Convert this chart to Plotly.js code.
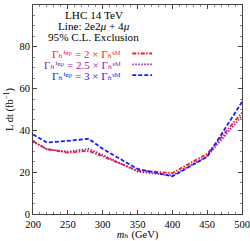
<!DOCTYPE html>
<html><head><meta charset="utf-8">
<script src="https://cdn.plot.ly/plotly-3.0.1.min.js"></script>
<style>html,body{margin:0;padding:0;background:#fff}#c{width:250px;height:241px}</style>
</head><body><div id="c"></div>
<script>
const massPoints = [200, 220, 250, 280, 300, 350, 400, 450, 500];
const lumi2x   = [34.8, 31.0, 29.4, 30.2, 27.6, 20.8, 19.6, 28.8, 48.5];
const lumi25x  = [34.6, 31.0, 29.8, 31.2, 28.2, 20.3, 18.4, 27.7, 46.9];
const lumi3x   = [38.0, 34.2, 35.0, 36.0, 31.2, 21.6, 18.0, 27.4, 53.6];
const seriesLabels = ['2', '2.5', '3'];
const seriesColors = ['#ff1a1a', '#a020a0', '#1a1aff'];
const seriesDash = ['4px,1.5px,1.5px,1.5px', '1.5px,1.5px', '4px,2px'];
const seriesData = [lumi2x, lumi25x, lumi3x];
const xTicks = [200, 250, 300, 350, 400, 450, 500];
const yTicks = [0, 20, 40, 60, 80, 100];

const fontFam = 'Liberation Serif, DejaVu Serif, Times New Roman, serif';
const traces = seriesData.map((ys, i) => ({
  x: massPoints, y: ys, type: 'scatter', mode: 'lines',
  line: {color: seriesColors[i], dash: seriesDash[i], width: 1.8},
  showlegend: false, hoverinfo: 'skip'
}));

const annotations = [
  {text: 'LHC 14 TeV', x: 0.29, y: 0.954},
  {text: 'Line: 2e2<i>μ</i> + 4<i>μ</i>', x: 0.29, y: 0.90},
  {text: '95% C.L. Exclusion', x: 0.29, y: 0.846}
].map(a => ({...a, xref: 'paper', yref: 'paper', showarrow: false,
  xanchor: 'center', yanchor: 'middle', borderpad: 0, font: {family: fontFam, size: 11.2, color: '#000'}}));

const legY = [0.768, 0.716, 0.664];
const shapes = [];
seriesLabels.forEach((lab, i) => {
  annotations.push({
    text: 'Γ<i>ₕ</i>ⁱⁿᵖ = ' + lab + ' × Γ<i>ₕ</i>ˢᴹ',
    x: 0.425, y: legY[i] - 0.004, xref: 'paper', yref: 'paper', showarrow: false,
    xanchor: 'right', yanchor: 'middle', borderpad: 0,
    font: {family: fontFam, size: 11, color: seriesColors[i]}
  });
  shapes.push({type: 'line', xref: 'paper', yref: 'paper',
    x0: 0.475, x1: 0.57, y0: legY[i], y1: legY[i],
    line: {color: seriesColors[i], dash: seriesDash[i], width: 1.8}});
});

const axisCommon = {
  showgrid: false, zeroline: false, showline: true, mirror: 'ticks',
  linecolor: '#444', linewidth: 1, ticks: 'inside', ticklen: 4, tickcolor: '#444',
  tickfont: {family: fontFam, size: 10.5, color: '#000'},
  minor: {ticks: 'inside', ticklen: 2, tickcolor: '#888', showgrid: false}
};

const layout = {
  width: 250, height: 241,
  margin: {l: 33, r: 8, t: 5, b: 27},
  paper_bgcolor: '#fff', plot_bgcolor: '#fff',
  xaxis: {...axisCommon, range: [200, 500], tickvals: xTicks,
    minor: {...axisCommon.minor, dtick: 10},
    title: {text: '<i>mₕ</i> (GeV)', font: {family: fontFam, size: 10.5, color: '#000'}, standoff: 4}},
  yaxis: {...axisCommon, range: [0, 100], tickvals: yTicks,
    minor: {...axisCommon.minor, dtick: 5},
    title: {text: 'L dt (fb<sup>−1</sup>)', font: {family: fontFam, size: 10.5, color: '#000'}, standoff: 3}},
  annotations: annotations, shapes: shapes
};
Plotly.newPlot('c', traces, layout, {staticPlot: true, displayModeBar: false});
</script></body></html>
